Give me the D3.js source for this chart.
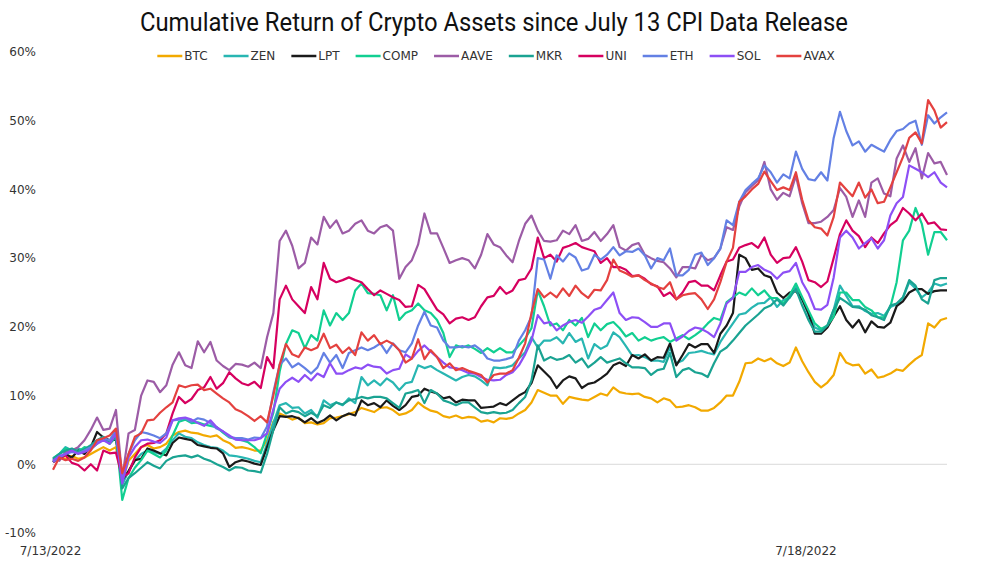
<!DOCTYPE html>
<html>
<head>
<meta charset="utf-8">
<script src="https://cdn.jsdelivr.net/npm/d3@7"></script>
<style>
	body { margin: 0; background: #fff; }
	text { font-family: "DejaVu Sans", Verdana, sans-serif; fill: #333; }
</style>
</head>
<body>
<svg id="chart" width="989" height="564"></svg>
<script>
// data: hourly cumulative return (%) since 7/13/2022 00:00
const startDate = new Date(2022, 6, 13, 0, 0)
const pointCount = 143
const tickDates = [new Date(2022, 6, 13), new Date(2022, 6, 18)]
const yTicks = [-10, 0, 10, 20, 30, 40, 50, 60]

const seriesNames = ["BTC", "ZEN", "LPT", "COMP", "AAVE", "MKR", "UNI", "ETH", "SOL", "AVAX"]
const seriesColors = ["#f2a900", "#28b6b2", "#1a1a1a", "#11cf91", "#9c5ca6", "#1aa392", "#d6005f", "#6380e4", "#8d4ff5", "#e4413f"]

const btc = [0.3,1.0,0.8,1.2,0.8,1.0,1.5,2.0,2.5,2.0,
	2.5,-2.5,0.5,1.5,2.5,2.8,2.3,2.5,3.0,4.2,
	4.7,4.9,4.6,4.5,4.2,4.0,4.2,3.5,3.1,2.4,
	2.5,2.3,2.0,2.0,3.5,6.2,7.4,7.0,6.5,6.8,
	6.0,6.1,5.8,6.0,6.7,6.8,7.0,7.3,7.6,8.2,
	7.9,7.6,8.2,8.3,7.9,7.2,7.4,7.9,9.0,8.3,
	7.8,7.6,7.0,6.8,7.1,6.7,6.9,6.8,6.2,6.4,
	6.1,6.7,6.6,6.8,7.4,7.9,9.0,10.8,10.4,10.0,
	10.0,8.8,9.8,9.6,9.4,9.3,9.8,10.3,10.0,11.2,
	10.5,10.3,10.2,10.3,9.8,9.6,9.0,9.6,9.3,8.3,
	8.4,8.6,8.3,7.8,7.8,8.2,9.0,10.0,10.0,12.0,
	14.7,14.8,15.4,15.0,15.4,14.7,14.3,14.8,17.0,15.0,
	13.4,12.0,11.2,11.9,13.0,16.2,14.8,14.4,14.5,13.2,
	13.8,12.6,12.8,13.2,13.8,13.6,14.5,15.3,15.9,20.5,
	19.9,21.0,21.3]

const zen = [0.5,1.5,2.5,2.0,2.3,2.0,2.5,3.5,3.9,3.0,
	4.2,-3.0,-1.0,0.5,1.5,2.0,1.8,1.5,2.3,3.5,
	4.5,4.0,3.8,3.2,2.8,2.5,2.4,2.0,1.3,1.2,
	1.0,0.8,0.5,0.3,3.0,6.0,8.6,8.9,8.2,8.3,
	7.4,7.9,6.8,9.3,8.6,9.0,8.6,9.6,8.9,12.7,
	11.5,12.2,11.5,12.5,11.9,10.8,11.8,12.0,14.4,14.0,
	14.3,13.7,13.2,12.7,12.2,12.7,13.0,12.8,12.2,11.5,
	14.1,14.0,14.1,14.4,15.4,16.3,18.5,17.0,18.0,18.0,
	18.5,17.6,19.1,17.8,18.3,15.4,17.5,16.8,17.3,19.2,
	18.5,17.2,15.8,15.9,15.6,15.1,15.1,14.9,17.0,14.7,
	15.1,16.2,16.3,16.5,16.2,16.0,17.8,19.2,20.5,21.8,
	22.0,22.8,23.4,23.5,24.3,22.9,23.9,24.2,25.8,24.0,
	21.8,19.9,19.5,20.0,22.5,26.0,24.5,23.0,23.0,22.3,
	21.9,22.0,21.6,22.9,23.3,24.2,26.5,25.6,24.3,25.0,
	26.3,26.0,26.3]

const lpt = [0.3,1.0,1.5,1.0,2.0,1.5,2.5,4.7,3.9,3.5,
	3.6,-2.3,-1.0,0.6,0.8,2.3,2.0,1.6,1.3,3.1,
	3.9,3.7,3.5,2.8,2.6,2.4,2.3,1.6,-0.4,0.3,
	0.6,0.4,0.1,-0.1,2.5,5.0,7.0,6.9,7.0,6.7,
	6.1,6.7,6.0,6.4,7.1,6.4,7.0,7.4,7.1,9.3,
	8.6,8.9,8.3,9.3,8.5,7.9,8.6,9.8,10.0,11.0,
	10.6,10.3,9.6,9.8,9.0,9.4,9.3,9.3,8.2,8.3,
	8.4,8.9,8.6,9.3,10.0,10.5,11.8,14.4,13.5,12.6,
	11.1,12.2,12.8,12.5,11.1,11.7,11.9,12.5,13.2,14.4,
	14.8,14.3,15.9,15.4,16.0,15.1,15.6,15.5,17.6,14.4,
	15.9,17.5,17.0,17.5,17.5,16.2,19.0,20.2,22.0,30.5,
	30.0,28.3,28.5,27.5,27.2,25.0,24.2,25.0,25.2,24.0,
	22.0,19.0,19.0,19.9,21.5,23.0,21.0,19.9,21.0,19.2,
	20.8,20.0,19.9,20.6,23.0,23.7,25.0,25.5,25.5,24.8,
	25.2,25.3,25.3]

const comp = [0.9,1.5,2.3,2.0,1.8,2.5,2.2,3.0,3.9,3.2,
	4.5,-5.2,-2.0,-0.5,0.6,2.0,1.5,1.0,2.0,4.2,
	6.2,6.5,6.0,6.1,5.8,5.6,5.4,4.6,3.9,3.7,
	3.5,3.2,2.5,1.6,4.5,7.5,13.5,17.5,19.5,19.1,
	16.9,18.8,18.0,22.4,20.2,22.0,21.0,22.0,25.3,26.3,
	24.9,24.8,24.6,22.4,24.6,21.0,22.0,22.4,23.4,22.4,
	22.0,21.0,19.1,15.6,17.3,17.0,17.3,16.8,16.2,16.9,
	16.3,16.9,16.3,16.3,17.3,18.3,19.8,25.3,23.0,20.2,
	20.5,19.5,21.0,20.2,21.3,18.5,20.5,19.5,20.4,20.7,
	19.8,18.6,19.1,18.0,18.5,18.0,18.3,18.5,17.8,18.3,
	18.8,18.2,18.8,19.5,20.5,21.3,21.0,23.6,24.3,25.0,
	24.6,25.6,24.6,25.3,24.2,24.2,23.4,24.6,26.3,24.3,
	22.4,20.5,19.7,20.2,21.5,25.0,25.0,23.9,23.9,22.9,
	22.4,21.4,21.4,22.9,26.5,32.6,34.0,37.3,35.0,30.5,
	33.8,33.8,32.6]

const aave = [0.9,0.5,1.8,2.0,2.5,3.5,5.0,6.8,5.0,5.2,
	7.9,-2.0,4.5,5.0,10.0,12.2,12.0,10.5,11.5,14.5,
	16.3,14.4,14.0,17.9,16.3,17.8,15.1,14.3,13.7,14.6,
	14.5,14.2,14.8,14.0,18.5,22.0,32.5,34.0,31.8,28.5,
	29.3,33.0,32.0,36.0,34.4,35.5,33.6,34.0,35.0,35.5,
	34.0,33.6,34.5,34.8,34.0,27.0,28.7,29.7,32.0,36.5,
	33.6,33.6,31.5,29.3,29.7,30.0,29.7,28.5,30.5,33.5,
	32.0,31.6,30.4,29.4,32.5,35.0,36.2,34.0,32.5,32.4,
	32.6,34.0,33.5,34.8,32.5,32.8,33.8,32.5,33.5,34.8,
	31.6,31.1,31.9,32.2,30.5,30.0,29.6,29.4,28.5,27.2,
	28.7,28.7,28.5,30.5,29.7,30.0,31.4,34.5,34.1,37.5,
	39.6,40.5,41.3,44.0,40.0,38.5,39.5,39.0,42.0,38.0,
	35.1,35.1,35.3,36.0,37.0,40.2,38.9,36.0,38.4,36.0,
	41.0,41.6,39.4,39.0,44.5,46.4,44.0,46.0,41.6,45.3,
	43.8,44.0,42.1]

const mkr = [0.8,1.5,2.0,2.3,1.8,2.2,2.8,3.5,4.0,3.0,
	3.9,-3.5,-2.0,-1.3,-0.5,0.3,-0.2,-0.6,0.5,1.0,
	1.2,1.3,1.0,1.3,0.8,0.5,0.0,-0.4,-0.9,-0.4,
	-0.5,-0.9,-1.0,-1.2,1.5,5.0,8.3,7.4,7.8,7.6,
	7.0,7.5,7.0,8.6,8.2,9.0,8.7,9.3,9.5,9.8,
	9.6,9.8,9.8,9.6,8.9,8.2,10.3,10.5,10.8,8.9,
	10.8,10.3,9.3,9.0,8.6,9.0,9.0,8.3,7.6,7.4,
	7.6,7.4,7.5,7.9,8.9,9.8,12.2,17.3,15.1,15.6,
	15.2,15.4,15.9,14.8,15.4,14.1,14.8,15.6,14.8,15.1,
	15.4,14.7,14.1,14.1,14.0,13.0,13.7,13.9,16.2,12.7,
	13.7,14.0,13.4,13.2,12.7,14.7,16.4,17.0,18.0,19.1,
	20.2,21.0,21.8,22.7,23.1,24.0,23.1,24.3,25.5,23.1,
	21.0,19.3,19.3,20.2,22.5,24.2,23.6,22.9,22.8,22.5,
	21.7,21.4,21.0,23.1,23.4,24.3,26.8,26.0,24.0,23.4,
	26.8,27.1,27.1]

const uni = [0.3,0.8,1.3,0.2,-0.1,-0.9,0.0,-0.9,2.0,1.6,
	1.7,-1.9,-1.3,1.0,2.5,3.0,3.1,3.5,4.5,7.4,
	9.8,8.9,9.5,10.8,11.2,12.7,11.0,11.8,13.4,12.5,
	11.8,11.5,12.0,11.1,15.6,14.0,24.0,26.0,24.0,23.0,
	22.0,25.8,24.0,29.3,27.0,26.5,26.8,27.2,26.8,26.5,
	25.5,24.6,25.3,24.8,24.3,23.9,22.9,23.0,26.1,25.5,
	24.0,22.5,21.8,20.5,21.2,21.4,21.0,21.4,23.0,24.3,
	24.5,25.8,24.8,25.3,26.8,27.0,28.5,33.0,30.0,30.5,
	29.5,31.5,31.8,32.2,31.6,31.3,31.0,29.3,30.0,28.7,
	28.7,28.3,27.4,27.5,27.0,26.2,25.9,24.5,25.0,24.0,
	25.0,26.5,26.7,26.0,26.0,25.3,27.5,29.5,29.8,31.5,
	31.9,32.2,31.5,33.0,30.5,29.3,30.0,30.1,31.6,29.5,
	26.8,26.5,25.8,26.6,30.0,33.5,35.5,34.0,33.2,31.6,
	33.0,32.2,33.6,34.8,35.5,37.3,36.5,35.5,36.5,35.0,
	35.2,34.2,34.1]

const eth = [0.3,1.0,1.5,1.8,1.6,2.0,2.5,3.2,3.8,3.5,
	5.0,-2.5,1.5,3.5,4.7,4.5,4.2,3.8,4.5,6.4,
	6.5,6.7,6.2,6.7,6.5,6.0,5.2,4.8,4.0,3.8,
	3.8,3.6,3.9,3.8,5.5,10.5,14.5,15.4,14.1,14.7,
	14.0,13.2,14.1,16.2,14.8,15.9,14.0,16.2,16.6,17.0,
	16.6,17.0,17.6,16.2,17.6,16.6,16.3,17.6,20.2,22.2,
	20.2,19.9,18.0,17.0,17.0,17.2,17.0,17.3,16.6,15.4,
	15.1,15.1,15.3,15.6,18.0,19.5,21.5,30.0,29.8,27.0,
	30.4,29.5,30.7,30.1,28.2,28.5,30.5,29.8,30.5,31.6,
	30.4,31.0,30.9,31.4,30.4,28.5,30.0,29.7,31.4,27.5,
	27.5,28.3,30.5,30.8,29.0,30.0,31.4,35.5,34.8,38.2,
	39.9,40.8,41.6,43.5,42.5,41.0,42.2,41.6,45.5,43.0,
	41.5,41.3,42.5,41.3,47.5,51.3,48.5,46.4,47.0,45.5,
	46.5,46.0,45.5,47.2,48.5,48.8,49.6,50.0,46.5,50.8,
	49.6,50.5,51.2]

const sol = [0.5,1.2,1.5,2.0,1.5,1.8,2.2,3.0,3.5,3.0,
	4.5,-2.8,1.0,2.5,3.5,3.6,3.3,3.1,3.9,6.4,
	6.7,6.8,6.5,6.0,5.6,6.4,5.4,4.8,4.2,3.6,
	3.5,3.5,3.5,3.8,4.5,8.0,11.0,12.0,12.6,12.0,
	13.0,12.2,13.2,12.7,14.7,13.2,13.2,13.7,14.1,13.9,
	14.5,14.2,14.1,13.2,13.7,13.9,16.0,15.4,16.5,17.3,
	16.4,15.6,14.8,14.1,14.0,13.7,13.3,13.2,12.7,12.3,
	12.2,12.3,13.0,13.4,14.4,16.0,18.0,21.7,20.5,20.7,
	19.5,20.2,20.7,21.0,20.6,21.5,22.5,22.8,23.9,25.0,
	22.0,21.0,21.4,21.3,20.7,20.0,20.0,20.5,20.5,18.0,
	18.6,19.4,19.9,19.7,19.2,18.5,20.5,23.4,24.2,28.0,
	28.0,28.7,29.0,28.3,27.9,27.0,27.9,28.1,29.3,26.5,
	24.9,22.6,22.5,23.2,27.2,33.0,34.0,33.0,31.4,32.2,
	32.9,31.4,32.6,36.2,38.0,38.9,43.5,43.0,42.5,41.8,
	42.5,41.0,40.3]

const avax = [-0.8,1.0,0.6,0.8,0.5,1.0,2.0,3.5,3.8,4.2,
	5.2,-1.3,1.5,4.0,4.5,6.4,6.5,7.5,8.3,9.0,
	11.5,11.2,11.5,11.6,10.8,11.0,10.3,9.6,9.0,8.0,
	7.6,7.0,6.3,7.0,6.1,10.0,14.5,17.5,16.0,15.6,
	17.0,16.6,17.0,19.0,16.9,17.4,16.2,17.0,15.9,19.2,
	18.0,18.8,17.5,18.0,17.5,16.6,14.8,15.4,18.2,15.3,
	16.6,15.6,14.0,14.7,13.7,14.0,13.6,13.3,13.0,11.9,
	13.0,13.2,13.2,13.7,15.5,17.6,22.0,25.5,24.3,25.0,
	24.3,25.6,24.5,26.0,24.9,24.2,25.4,25.3,26.8,29.8,
	28.2,27.8,27.3,27.5,26.8,26.3,25.8,25.5,26.5,24.0,
	24.6,24.8,24.9,24.0,22.6,24.0,26.5,29.5,31.5,38.2,
	39.0,40.0,40.8,42.6,41.2,39.9,40.3,39.9,42.5,38.5,
	35.5,34.5,34.3,33.3,36.0,41.0,40.0,39.0,41.0,38.8,
	40.0,38.0,38.2,40.3,42.5,44.7,47.5,48.3,46.7,53.0,
	51.5,49.0,49.8]

const seriesValues = [btc, zen, lpt, comp, aave, mkr, uni, eth, sol, avax]
const times = d3.range(pointCount).map(i => d3.timeHour.offset(startDate, i))

// layout
const svg = d3.select('#chart')
const x = d3.scaleTime().domain([times[0], times[pointCount - 1]]).range([53, 947])
const y = d3.scaleLinear().domain([-10, 60]).range([533, 52])

// title
svg.append('text')
	.attr('x', 494)
	.attr('y', 31)
	.attr('text-anchor', 'middle')
	.attr('textLength', 708)
	.attr('lengthAdjust', 'spacingAndGlyphs')
	.style('font-family', 'Roboto, "Open Sans", sans-serif')
	.style('font-size', '26px')
	.style('fill', '#111')
	.text('Cumulative Return of Crypto Assets since July 13 CPI Data Release')

// y axis labels only, no domain line
const yAxis = svg.append('g')
	.attr('transform', 'translate(36,0)')
	.call(d3.axisLeft(y).tickValues(yTicks).tickFormat(d => d + '%').tickSize(0).tickPadding(0))
yAxis.select('.domain').remove()
yAxis.selectAll('text').style('font-size', '12px').style('fill', '#333').style('font-family', '"DejaVu Sans", sans-serif')

// zero line
svg.append('line')
	.attr('x1', 52).attr('x2', 947)
	.attr('y1', y(0)).attr('y2', y(0))
	.attr('stroke', '#d9d9d9')
	.attr('stroke-width', 1)

// x axis: two date labels
const xAxis = svg.append('g')
	.attr('transform', 'translate(-3,546)')
	.call(d3.axisBottom(x).tickValues(tickDates).tickFormat(d3.timeFormat('%-m/%-d/%Y')).tickSize(0).tickPadding(0))
xAxis.select('.domain').remove()
xAxis.selectAll('text').style('font-size', '12px').style('fill', '#333').style('font-family', '"DejaVu Sans", sans-serif')

// series lines
const line = d3.line()
	.x((d, i) => x(times[i]))
	.y(d => y(d))

svg.append('g')
	.selectAll('path')
	.data(seriesValues)
	.join('path')
	.attr('d', d => line(d))
	.attr('fill', 'none')
	.attr('stroke', (d, i) => seriesColors[i])
	.attr('stroke-width', 2.2)
	.attr('stroke-linejoin', 'round')

// legend, laid out by measured text widths and centred
const legend = svg.append('g')
const items = legend.selectAll('g')
	.data(seriesNames)
	.join('g')
items.append('line')
	.attr('x1', 0).attr('x2', 25)
	.attr('y1', 0).attr('y2', 0)
	.attr('stroke', (d, i) => seriesColors[i])
	.attr('stroke-width', 2.5)
items.append('text')
	.attr('x', 27)
	.attr('dy', '0.36em')
	.style('font-size', '12px')
	.text(d => d)

let offset = 0
items.each(function () {
	let w = d3.select(this).select('text').node().getComputedTextLength()
	d3.select(this).attr('transform', `translate(${offset},0)`)
	offset += 27 + w + 16
})
let legendWidth = offset - 16
legend.attr('transform', `translate(${496 - legendWidth / 2},56)`)
</script>
</body>
</html>
